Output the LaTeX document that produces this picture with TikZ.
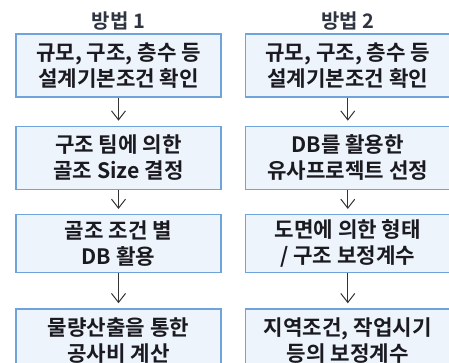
\documentclass[tikz,border=0pt]{standalone}
\usepackage{fontspec}
\setmainfont{Noto Sans CJK KR}
\newfontfamily\krbold{Noto Sans CJK KR Bold}
\usepackage{xcolor}
\usepackage{tikz}
\usetikzlibrary{arrows.meta,positioning}

\definecolor{boxblue}{HTML}{6FA3DC}
\definecolor{boxfill}{HTML}{EEF4FB}
\definecolor{txtdark}{HTML}{1A1A20}
\definecolor{headdark}{HTML}{2E3440}

\begin{document}
\begin{tikzpicture}[x=1pt, y=1pt, node distance=28pt,
    box/.style={draw=boxblue,line width=1.3pt,fill=boxfill,minimum width=205pt,minimum height=63pt,
      inner xsep=2pt,align=center,text=txtdark,font=\krbold\fontsize{21.2}{26}\selectfont},
    head/.style={text=headdark,inner sep=2pt,font=\krbold\fontsize{20}{22}\selectfont},
    flow/.style={-{Straight Barb[length=9pt,width=14pt]},line width=1pt,draw=black!80,shorten >=5pt}]
  \clip (0,0) rectangle (449,-363);
  \useasboundingbox (0,0) rectangle (449,-363);
  % method 1
  \node[box] (m1a) at (118.5,-65.5) {규모, 구조, 층수 등\\설계기본조건 확인};
  \node[box,below=28pt of m1a] (m1b) {구조 팀에 의한\\골조 Size 결정};
  \node[box,below=24pt of m1b,minimum height=58pt] (m1c) {골조 조건 별\\DB 활용};
  \node[box,below=35pt of m1c] (m1d) {물량산출을 통한\\공사비 계산};
  % method 2
  \node[box,right=23pt of m1a] (m2a) {규모, 구조, 층수 등\\설계기본조건 확인};
  \node[box,right=23pt of m1b] (m2b) {DB를 활용한\\유사프로젝트 선정};
  \node[box,right=23pt of m1c,minimum height=58pt] (m2c) {도면에 의한 형태\\/ 구조 보정계수};
  \node[box,right=23pt of m1d] (m2d) {지역조건, 작업시기\\등의 보정계수};
  % headings
  \node[head,above=1pt of m1a] (h1) {방법 1};
  \node[head,above=1pt of m2a] (h2) {방법 2};
  % arrows
  \draw[flow] (m1a) -- (m1b);
  \draw[flow] (m1b) -- (m1c);
  \draw[flow] (m1c) -- (m1d);
  \draw[flow] (m2a) -- (m2b);
  \draw[flow] (m2b) -- (m2c);
  \draw[flow] (m2c) -- (m2d);
\end{tikzpicture}
\end{document}
